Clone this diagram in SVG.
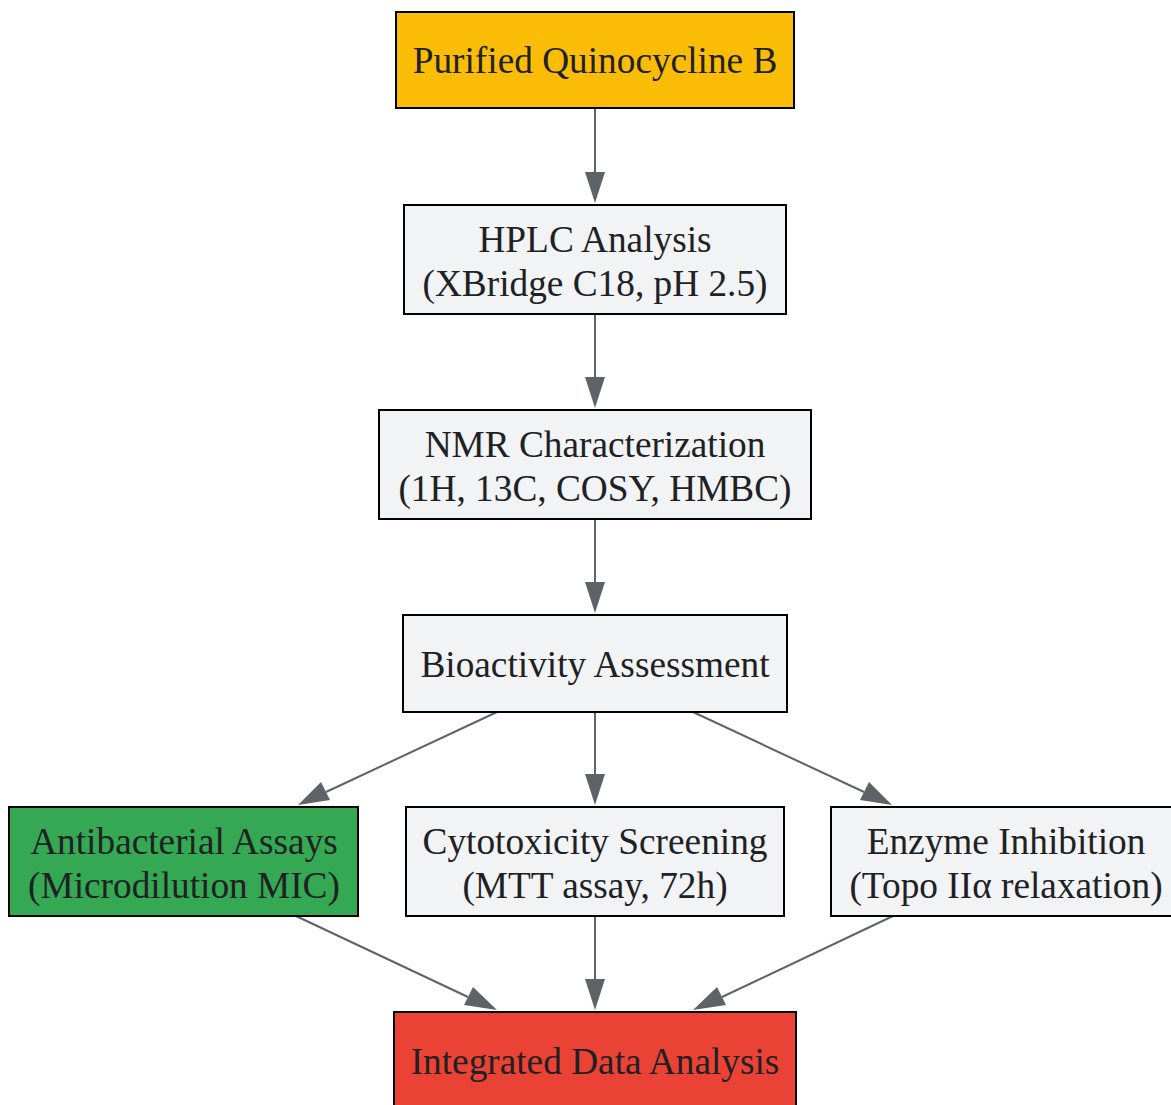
<svg xmlns="http://www.w3.org/2000/svg" width="1171" height="1105" viewBox="0 0 1171 1105">
<defs>
<style>
.n rect{stroke:#000;stroke-width:2}
.n text{font-family:"Liberation Serif","Times New Roman",serif;font-size:37.3px;fill:#202124;text-anchor:middle}
.g{fill:#F1F3F4}
.e line{stroke:#5F6368;stroke-width:2}
.e polygon{fill:#5F6368}
</style>
</defs>
<rect width="1171" height="1105" fill="#fff"/>
<g class="e" id="edges">
<line x1="595" y1="108" x2="595" y2="172"/>
<polygon points="585,172 605,172 595,203"/>
<line x1="595" y1="314" x2="595" y2="377"/>
<polygon points="585,377 605,377 595,408"/>
<line x1="595" y1="519" x2="595" y2="582"/>
<polygon points="585,582 605,582 595,613"/>
<line x1="595" y1="712" x2="595" y2="774"/>
<polygon points="585,774 605,774 595,805"/>
<line x1="497" y1="712" x2="326" y2="792"/>
<polygon points="321,782 330,800 298,805"/>
<line x1="693" y1="712" x2="864" y2="792"/>
<polygon points="869,782 860,800 892,805"/>
<line x1="595" y1="916" x2="595" y2="979"/>
<polygon points="585,979 605,979 595,1010"/>
<line x1="296" y1="916" x2="468" y2="997"/>
<polygon points="473,987 464,1005 497,1010"/>
<line x1="893" y1="916" x2="722" y2="997"/>
<polygon points="717,987 726,1005 693,1010"/>
</g>
<g class="n" id="n1"><rect x="396" y="12" width="398" height="96" fill="#FBBC05"/><text x="595" y="73">Purified Quinocycline B</text></g>
<g class="n" id="n2"><rect x="404" y="205" width="382" height="109" class="g"/><text x="595" y="252">HPLC Analysis</text><text x="595" y="296">(XBridge C18, pH 2.5)</text></g>
<g class="n" id="n3"><rect x="379" y="410" width="432" height="109" class="g"/><text x="595" y="457">NMR Characterization</text><text x="595" y="501">(1H, 13C, COSY, HMBC)</text></g>
<g class="n" id="n4"><rect x="403" y="615" width="384" height="97" class="g"/><text x="595" y="677">Bioactivity Assessment</text></g>
<g class="n" id="n5"><rect x="9" y="807" width="349" height="109" fill="#34A853"/><text x="184" y="854">Antibacterial Assays</text><text x="184" y="898">(Microdilution MIC)</text></g>
<g class="n" id="n6"><rect x="406" y="807" width="378" height="109" class="g"/><text x="595" y="854">Cytotoxicity Screening</text><text x="595" y="898">(MTT assay, 72h)</text></g>
<g class="n" id="n7"><rect x="831" y="807" width="342" height="109" class="g"/><text x="1006" y="854">Enzyme Inhibition</text><text x="1006" y="898">(Topo IIα relaxation)</text></g>
<g class="n" id="n8"><rect x="394" y="1012" width="402" height="110" fill="#EA4335"/><text x="595" y="1074">Integrated Data Analysis</text></g>
</svg>
